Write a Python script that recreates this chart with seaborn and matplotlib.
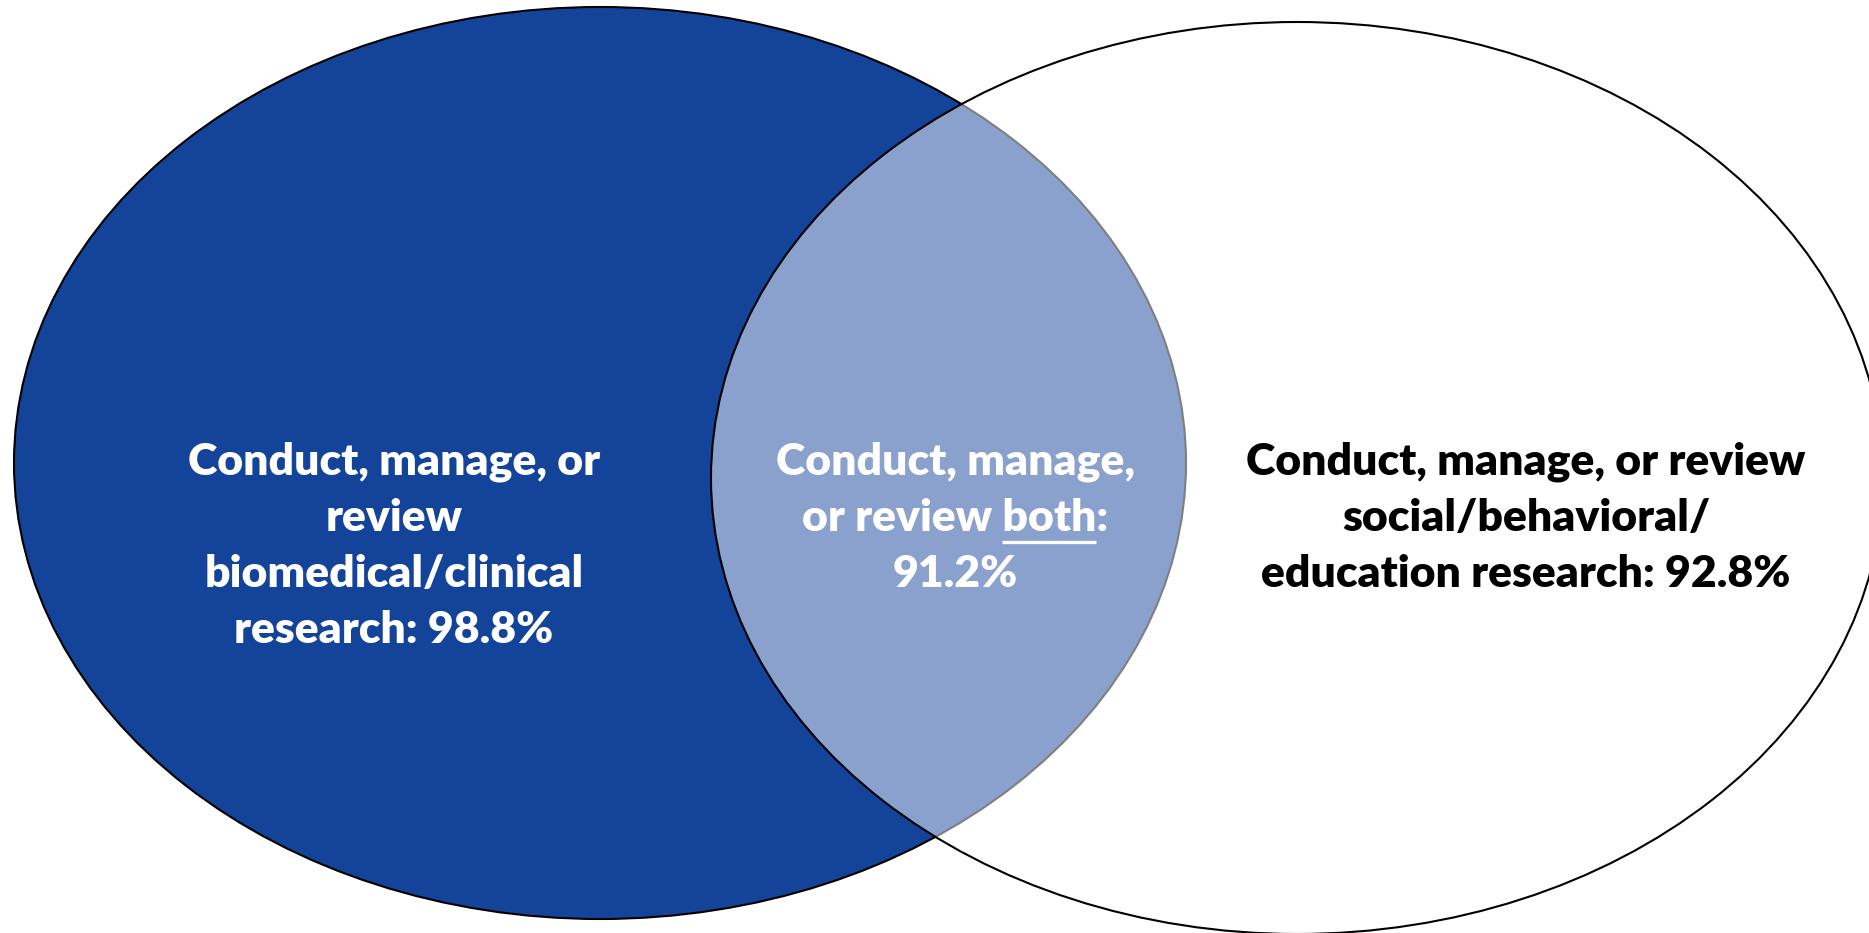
import matplotlib
matplotlib.use("Agg")
import matplotlib.pyplot as plt
from matplotlib.patches import Ellipse
import seaborn as sns

# Data
groups = ["Biomedical/clinical", "Both", "Social/behavioral/education"]
percent = [98.8, 91.2, 92.8]
labels_left = ["Conduct, manage, or", "review", "biomedical/clinical", "research: {:.1f}%"]
labels_mid = ["Conduct, manage,", "or review both:", "{:.1f}%"]
labels_right = ["Conduct, manage, or review", "social/behavioral/", "education research: {:.1f}%"]

sns.set_theme(style="white")
plt.rcParams['font.family'] = ['Lato', 'DejaVu Sans']

W, H = 1869, 933
fig = plt.figure(figsize=(W / 100, H / 100), dpi=100)
ax = fig.add_axes([0, 0, 1, 1])
ax.set_xlim(0, W)
ax.set_ylim(H, 0)
ax.axis("off")

blue = "#14449A"
left = Ellipse((600, 463), 1172, 912, facecolor=blue, edgecolor="black", lw=1.5, zorder=1)
right = Ellipse((1297, 478), 1172, 912, facecolor=(1, 1, 1, 0.5), edgecolor="black", lw=1.5, zorder=2)
ax.add_patch(left)
ax.add_patch(right)

fs = 32
ls = 56
fw = "heavy"

def block(lines, cx, y0, color):
    for i, t in enumerate(lines):
        ax.text(cx, y0 + i * ls, t, ha="center", va="center", fontsize=fs,
                fontweight=fw, color=color, zorder=5)

left_lines = labels_left[:3] + [labels_left[3].format(percent[0])]
block(left_lines, 394, 462, "white")

right_lines = labels_right[:2] + [labels_right[2].format(percent[2])]
block(right_lines, 1526, 462, "black")

# middle block with underlined "both"
ax.text(955, 462, labels_mid[0], ha="center", va="center", fontsize=fs, fontweight=fw, color="white", zorder=5)
line2 = ax.text(955, 462 + ls, labels_mid[1], ha="center", va="center", fontsize=fs,
                fontweight=fw, color="white", zorder=5)
ax.text(955, 462 + 2 * ls, labels_mid[2].format(percent[1]), ha="center", va="center",
        fontsize=fs, fontweight=fw, color="white", zorder=5)

fig.canvas.draw()
r = fig.canvas.get_renderer()
inv = ax.transData.inverted()
bb_full = line2.get_window_extent(r)
tmp_pre = ax.text(0, 0, "or review ", fontsize=fs, fontweight=fw)
tmp_word = ax.text(0, 0, "both", fontsize=fs, fontweight=fw)
w_pre = tmp_pre.get_window_extent(r).width
w_word = tmp_word.get_window_extent(r).width
tmp_pre.remove(); tmp_word.remove()
x_start = bb_full.x0 + w_pre
x_end = x_start + w_word
(xa, _), (xb, _) = inv.transform([(x_start, 0), (x_end, 0)])
uy = 462 + ls + 24
ax.plot([xa, xb], [uy, uy], color="white", lw=2.4, zorder=5, solid_capstyle="butt")

fig.savefig("out.png", dpi=100, facecolor="white")
